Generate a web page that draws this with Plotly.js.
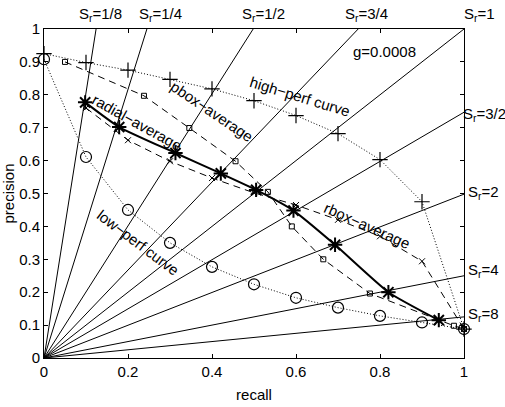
<!DOCTYPE html>
<html>
<head>
<meta charset="utf-8">
<script src="https://cdn.plot.ly/plotly-3.0.1.min.js"></script>
<style>html,body{margin:0;padding:0;background:#fff;}#chart{width:505px;height:407px;}</style>
</head>
<body>
<div id="chart"></div>
<script>
// ---- data ----
// iso-S_r lines from the origin: end point of each line on the plot border
const srLabels = ["1/8", "1/4", "1/2", "3/4", "1", "3/2", "2", "4", "8"];
const srEndRecall    = [0.124, 0.245, 0.498, 0.748, 1.0, 1.0, 1.0, 1.0, 1.0];
const srEndPrecision = [1.0, 1.0, 1.0, 1.0, 1.0, 0.747, 0.498, 0.25, 0.125];

// high-perf curve (+, dotted)
const highRecall    = [0.0, 0.1, 0.2, 0.3, 0.4, 0.5, 0.6, 0.7, 0.8, 0.9, 1.0];
const highPrecision = [0.925, 0.898, 0.875, 0.847, 0.818, 0.782, 0.737, 0.682, 0.603, 0.475, 0.088];

// low-perf curve (o, dotted)
const lowRecall    = [0.0, 0.1, 0.2, 0.3, 0.4, 0.5, 0.6, 0.7, 0.8, 0.9, 1.0];
const lowPrecision = [0.908, 0.611, 0.45, 0.35, 0.277, 0.224, 0.183, 0.153, 0.128, 0.108, 0.088];

// radial average (*, thick solid)
const radRecall    = [0.098, 0.179, 0.313, 0.421, 0.505, 0.594, 0.693, 0.82, 0.94];
const radPrecision = [0.777, 0.702, 0.623, 0.561, 0.511, 0.448, 0.344, 0.20, 0.115];

// pbox average (small squares, dashed)
const pboxRecall    = [0.05, 0.238, 0.346, 0.456, 0.533, 0.59, 0.665, 0.776, 0.976, 1.0];
const pboxPrecision = [0.90, 0.797, 0.699, 0.598, 0.505, 0.40, 0.30, 0.196, 0.098, 0.088];

// rbox average (small x, dashed)
const rboxRecall    = [0.1, 0.2, 0.3, 0.4, 0.5, 0.6, 0.7, 0.8, 0.9, 1.0];
const rboxPrecision = [0.760, 0.662, 0.598, 0.547, 0.502, 0.465, 0.42, 0.37, 0.294, 0.088];

// ---- traces ----
const traces = [];
for (let i = 0; i < srLabels.length; i++) {
  traces.push({
    x: [0, srEndRecall[i]], y: [0, srEndPrecision[i]],
    mode: 'lines', line: {color: '#000', width: 1}, hoverinfo: 'skip', showlegend: false
  });
}
traces.push({x: highRecall, y: highPrecision, mode: 'lines+markers',
  line: {color: '#000', width: 1, dash: '1px,2px'},
  marker: {symbol: 'cross-thin-open', size: 11, color: '#000', line: {color: '#000', width: 1.2}},
  cliponaxis: false, showlegend: false});
traces.push({x: lowRecall, y: lowPrecision, mode: 'lines+markers',
  line: {color: '#000', width: 1, dash: '1px,2px'},
  marker: {symbol: 'circle-open', size: 11, color: '#000', line: {color: '#000', width: 1.2}},
  cliponaxis: false, showlegend: false});
traces.push({x: pboxRecall, y: pboxPrecision, mode: 'lines+markers',
  line: {color: '#000', width: 1, dash: '7px,5px'},
  marker: {symbol: 'square-open', size: 5, color: '#000', line: {color: '#000', width: 1}},
  cliponaxis: false, showlegend: false});
traces.push({x: rboxRecall, y: rboxPrecision, mode: 'lines+markers',
  line: {color: '#000', width: 1, dash: '7px,5px'},
  marker: {symbol: 'x-thin-open', size: 6, color: '#000', line: {color: '#000', width: 1}},
  cliponaxis: false, showlegend: false});
traces.push({x: radRecall, y: radPrecision, mode: 'lines+markers',
  line: {color: '#000', width: 2, shape: 'spline', smoothing: 0.5},
  marker: {symbol: 'asterisk-open', size: 12, color: '#000', line: {color: '#000', width: 2}},
  cliponaxis: false, showlegend: false});

// ---- layout ----
const L = 44, T = 29, W = 420, H = 329.5;
function px2paper(px, py) { return [(px - L) / W, (T + H - py) / H]; }
const font = {family: 'Arial, "Liberation Sans", sans-serif', size: 15, color: '#000'};
const annotations = [];
function addText(text, px, py, angle, xanchor) {
  const p = px2paper(px, py);
  annotations.push({text: text, xref: 'paper', yref: 'paper', x: p[0], y: p[1],
    xanchor: xanchor || 'center', yanchor: 'middle', showarrow: false,
    textangle: angle || 0, font: font});
}
// S_r labels (top and right)
const srLabelPx = [[77, 14], [137, 14], [240, 14], [343, 14], [462, 14], [461, 115], [466, 193], [466, 271], [466, 315]];
for (let i = 0; i < srLabels.length; i++) {
  addText('S<sub>r</sub>=' + srLabels[i], srLabelPx[i][0], srLabelPx[i][1], 0, 'left');
}
addText('g=0.0008', 384, 52, 0);
addText('high\u2212perf curve', 300, 97, 17);
addText('pbox\u2212average', 212, 112, 34);
addText('radial\u2212average', 137, 123, 29);
addText('rbox\u2212average', 367, 226, 24);
addText('low\u2212perf curve', 138, 243, 37);

const axisCommon = {
  showline: true, linecolor: '#000', linewidth: 1, mirror: 'ticks',
  ticks: 'inside', ticklen: 4, tickcolor: '#000', tickwidth: 1,
  showgrid: false, zeroline: false, tickfont: font, automargin: false
};
const layout = {
  width: 505, height: 407,
  margin: {l: 44, r: 41, t: 29, b: 48.5, pad: 0},
  paper_bgcolor: '#fff', plot_bgcolor: '#fff',
  font: font,
  showlegend: false,
  xaxis: Object.assign({}, axisCommon, {range: [0, 1], tick0: 0, dtick: 0.2,
    title: {text: 'recall', font: font, standoff: 10}}),
  yaxis: Object.assign({}, axisCommon, {range: [0, 1], tick0: 0, dtick: 0.1,
    title: {text: 'precision', font: font, standoff: 6}}),
  annotations: annotations
};
Plotly.newPlot('chart', traces, layout, {displayModeBar: false, staticPlot: true});
</script>
</body>
</html>
